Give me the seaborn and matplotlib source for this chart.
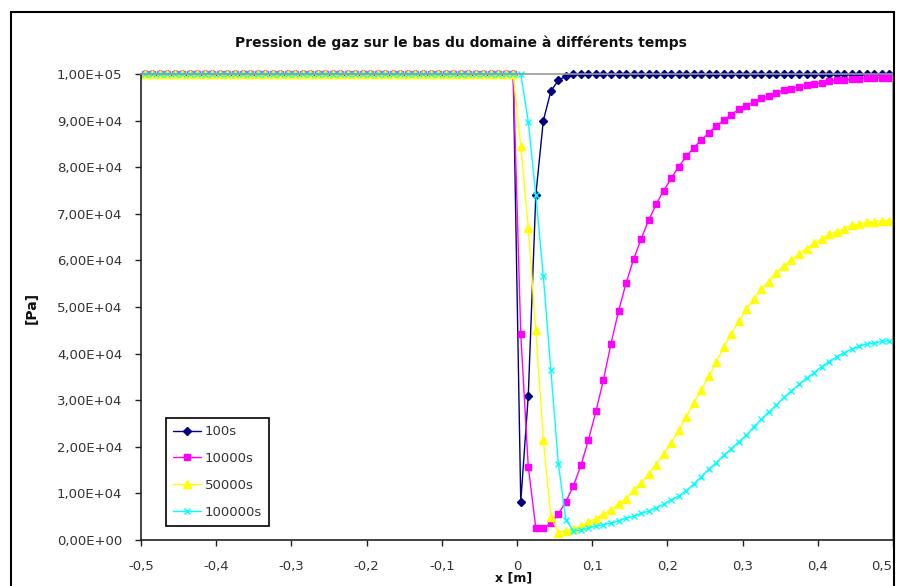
import numpy as np
import pandas as pd
import seaborn as sns
import matplotlib
matplotlib.use("Agg")
import matplotlib.pyplot as plt
import matplotlib.transforms as mtransforms
from matplotlib.ticker import MultipleLocator, FuncFormatter
from matplotlib.patches import Rectangle

# mesh: cell centres from -0.495 to 0.495
x_pos = np.round(np.arange(-0.495, 0.5, 0.01), 3)

# left half of the domain stays at 1e5 Pa for every time
plateau = [1.0e5] * 50

p_100 = plateau + [
    8.2e3, 3.1e4, 7.4e4, 9.0e4, 9.63e4, 9.87e4, 9.95e4, 9.99e4, 1.0e5, 1.0e5,
    1.0e5, 1.0e5, 1.0e5, 1.0e5, 1.0e5, 1.0e5, 1.0e5, 1.0e5, 1.0e5, 1.0e5,
    1.0e5, 1.0e5, 1.0e5, 1.0e5, 1.0e5, 1.0e5, 1.0e5, 1.0e5, 1.0e5, 1.0e5,
    1.0e5, 1.0e5, 1.0e5, 1.0e5, 1.0e5, 1.0e5, 1.0e5, 1.0e5, 1.0e5, 1.0e5,
    1.0e5, 1.0e5, 1.0e5, 1.0e5, 1.0e5, 1.0e5, 1.0e5, 1.0e5, 1.0e5, 1.0e5,
]
p_10000 = plateau + [
    4.42e4, 1.57e4, 2.6e3, 2.6e3, 3.6e3, 5.6e3, 8.2e3, 1.16e4, 1.6e4, 2.15e4,
    2.76e4, 3.44e4, 4.21e4, 4.91e4, 5.51e4, 6.02e4, 6.46e4, 6.86e4, 7.2e4, 7.5e4,
    7.76e4, 8.01e4, 8.23e4, 8.42e4, 8.58e4, 8.74e4, 8.88e4, 9.01e4, 9.13e4, 9.24e4,
    9.31e4, 9.40e4, 9.48e4, 9.53e4, 9.59e4, 9.65e4, 9.68e4, 9.73e4, 9.76e4, 9.79e4,
    9.81e4, 9.84e4, 9.87e4, 9.87e4, 9.89e4, 9.90e4, 9.91e4, 9.91e4, 9.92e4, 9.92e4,
]
p_50000 = plateau + [
    8.45e4, 6.7e4, 4.5e4, 2.15e4, 5.0e3, 1.6e3, 2.0e3, 2.3e3, 3.0e3, 3.9e3,
    4.6e3, 5.5e3, 6.5e3, 7.7e3, 8.9e3, 1.07e4, 1.22e4, 1.41e4, 1.62e4, 1.85e4,
    2.09e4, 2.36e4, 2.64e4, 2.94e4, 3.22e4, 3.51e4, 3.82e4, 4.14e4, 4.43e4, 4.69e4,
    4.96e4, 5.17e4, 5.39e4, 5.54e4, 5.74e4, 5.88e4, 6.01e4, 6.14e4, 6.25e4, 6.37e4,
    6.46e4, 6.56e4, 6.62e4, 6.68e4, 6.75e4, 6.78e4, 6.82e4, 6.83e4, 6.85e4, 6.85e4,
]
p_100000 = plateau + [
    1.0e5, 8.98e4, 7.4e4, 5.66e4, 3.65e4, 1.64e4, 4.3e3, 2.0e3, 2.1e3, 2.6e3,
    3.0e3, 3.3e3, 3.6e3, 4.1e3, 4.7e3, 5.1e3, 5.7e3, 6.2e3, 6.9e3, 7.7e3,
    8.6e3, 9.4e3, 1.06e4, 1.2e4, 1.36e4, 1.52e4, 1.66e4, 1.82e4, 1.96e4, 2.11e4,
    2.25e4, 2.43e4, 2.59e4, 2.75e4, 2.90e4, 3.06e4, 3.2e4, 3.34e4, 3.47e4, 3.59e4,
    3.72e4, 3.83e4, 3.93e4, 4.02e4, 4.09e4, 4.16e4, 4.21e4, 4.23e4, 4.26e4, 4.28e4,
]

labels = ["100s", "10000s", "50000s", "100000s"]
colors = ["#000080", "#FF00FF", "#FFFF00", "#00FFFF"]
markers = ["D", "s", "^", "x"]
msizes = [4.5, 4.5, 5.5, 5]
x_ticks = [-0.5, -0.4, -0.3, -0.2, -0.1, 0.0, 0.1, 0.2, 0.3, 0.4, 0.5]

df = pd.DataFrame({"x": x_pos, "100s": p_100, "10000s": p_10000,
                   "50000s": p_50000, "100000s": p_100000})

sns.set_style("white")
plt.rcParams["font.family"] = ["DejaVu Sans"]

fig = plt.figure(figsize=(8.99, 5.86), dpi=100)
ax = fig.add_axes([141 / 899, 1 - 540 / 586, (893 - 141) / 899, (540 - 74) / 586])

for lab, c, m, ms in zip(labels, colors, markers, msizes):
    sns.lineplot(data=df, x="x", y=lab, color=c, marker=m, markersize=ms,
                 markeredgecolor=c, markeredgewidth=1, linewidth=1,
                 label=lab, ax=ax, clip_on=False)

ax.set_xlim(-0.5, 0.5)
ax.set_ylim(0, 1.0e5)
ax.set_xticks(x_ticks)
ax.yaxis.set_major_locator(MultipleLocator(1.0e4))


def fmt_x(v, pos):
    if abs(v) < 1e-9:
        return "0"
    return f"{v:.1f}".replace(".", ",")


def fmt_y(v, pos):
    return f"{v:.2E}".replace(".", ",")


ax.xaxis.set_major_formatter(FuncFormatter(fmt_x))
ax.yaxis.set_major_formatter(FuncFormatter(fmt_y))
ax.tick_params(axis="x", direction="out", length=4.5, width=1, pad=10,
               labelsize=9.5, color="#222222", labelcolor="#333333", bottom=True)
ax.tick_params(axis="y", direction="out", length=4.5, width=1, pad=9,
               labelsize=9.5, color="#222222", labelcolor="#333333", left=True)
ax.set_xlabel("")
ax.set_ylabel("")

for side in ["left", "bottom"]:
    ax.spines[side].set_color("#222222")
    ax.spines[side].set_linewidth(1.2)
for side in ["top", "right"]:
    ax.spines[side].set_color("#999999")
    ax.spines[side].set_linewidth(1.2)

handles, labs = ax.get_legend_handles_labels()
leg = ax.legend(handles, labs, loc="lower left", bbox_to_anchor=(0.033, 0.03),
                borderaxespad=0, fancybox=False, framealpha=1, edgecolor="black",
                fontsize=9.5, handlelength=2.1, labelspacing=1.05,
                borderpad=0.55, handletextpad=0.3)
leg.get_frame().set_linewidth(1.2)
for t in leg.get_texts():
    t.set_color("#333333")

fig.text(461 / 899, 1 - 43 / 586, "Pression de gaz sur le bas du domaine à différents temps",
         ha="center", va="center", fontsize=10, fontweight="bold", color="#111111")
fig.text(514 / 899, 1.5 / 586, "x [m]", ha="center", va="bottom",
         fontsize=9, fontweight="bold", color="#111111")
fig.text(32 / 899, 1 - 308 / 586, "[Pa]", ha="center", va="center", rotation=90,
         fontsize=10, fontweight="bold", color="#111111")

# outer chart frame
fig.add_artist(Rectangle((11 / 899, -0.05), (894 - 11) / 899, 1 - 12 / 586 + 0.05,
                         transform=fig.transFigure, fill=False, lw=1.5,
                         edgecolor="black"))

# last x label sits at the right edge: nudge it inside the picture
fig.canvas.draw()
last = ax.get_xticklabels()[-1]
last.set_transform(last.get_transform() +
                   mtransforms.ScaledTranslation(-8 / 72, 0, fig.dpi_scale_trans))

fig.savefig("out.png", dpi=100)
